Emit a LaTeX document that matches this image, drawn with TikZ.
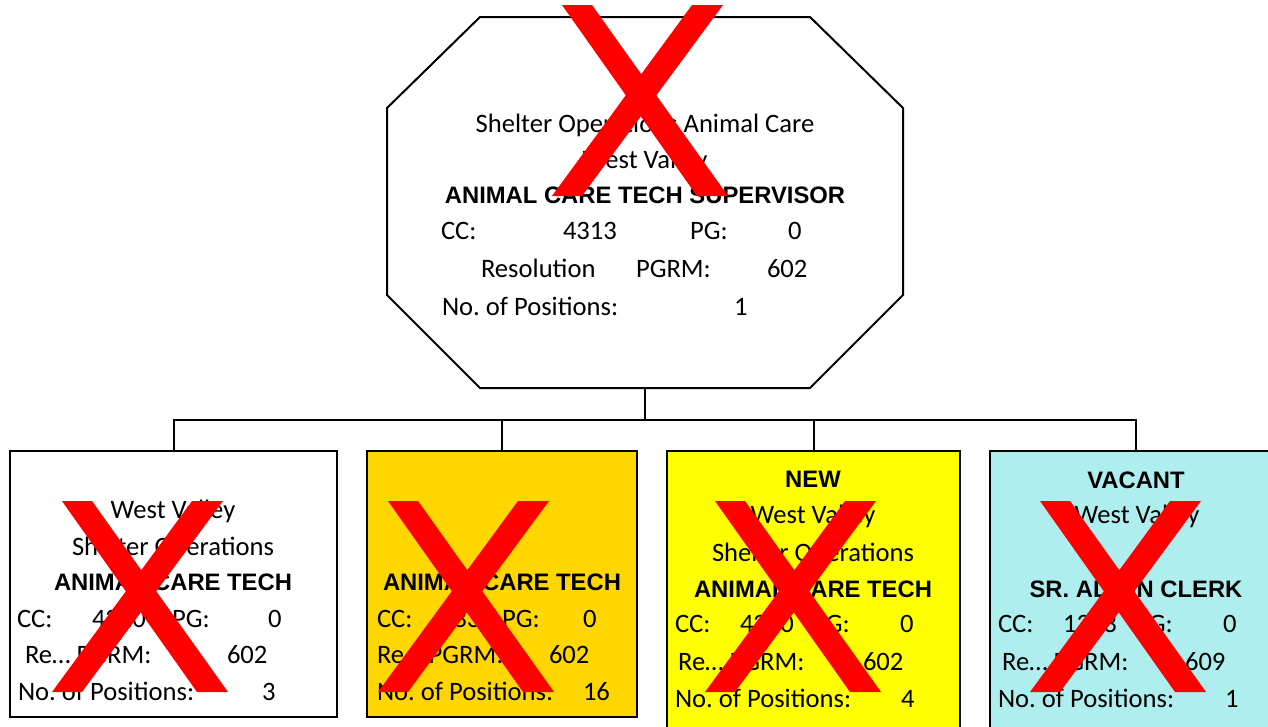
\documentclass[tikz,border=0pt]{standalone}
\usepackage{fontspec}
\setmainfont{Carlito}
\newfontfamily\arialf{Liberation Sans}
\usetikzlibrary{calc}
\frenchspacing
\definecolor{gold}{RGB}{255,215,0}
\definecolor{yel}{RGB}{255,255,0}
\definecolor{cyanl}{RGB}{175,238,238}
\definecolor{xred}{RGB}{255,0,0}
\newcommand\rgtxt{\frenchspacing\fontsize{26.6pt}{30pt}\selectfont}
\newcommand\bdtxt{\arialf\bfseries\fontsize{23.8pt}{28pt}\selectfont}
\begin{document}
\begin{tikzpicture}[x=1pt,y=-1pt,
  lbl/.style={inner sep=0pt,outer sep=0pt,font=\rgtxt},
  lw/.style={lbl,anchor=base west},
  lc/.style={lbl,anchor=base},
  bc/.style={inner sep=0pt,outer sep=0pt,font=\bdtxt,anchor=base},
  boxn/.style={draw=black,line width=2pt,inner sep=0pt,outer sep=0pt},
  conn/.style={draw=black,line width=2pt},
  redx/.pic={
    \fill[xred] (0,0) -- (30,0) -- (166,191) -- (135,191) -- cycle;
    \fill[xred] (130,0) -- (161,0) -- (20,191) -- (-10,191) -- cycle;
  }]
\useasboundingbox (0,0) rectangle (1268,726);
\clip (0,0) rectangle (1268,726);
\fill[white] (0,0) rectangle (1268,726);

% supervisor octagon
\node[inner sep=0pt,outer sep=0pt,minimum width=516pt,minimum height=371pt] (sup) at (645,202.5) {};
\draw[line width=2pt,fill=white,line join=miter]
  ($(sup.north west)+(93,0)$) -- ($(sup.north east)+(-93,0)$) -- ($(sup.north east)+(0,91)$)
  -- ($(sup.south east)+(0,-93)$) -- ($(sup.south east)+(-93,0)$) -- ($(sup.south west)+(93,0)$)
  -- ($(sup.south west)+(0,-93)$) -- ($(sup.north west)+(0,91)$) -- cycle;

% boxes
\node[boxn,fill=white,minimum width=327pt,minimum height=266pt] (b1) at (173.5,584) {};
\node[boxn,fill=gold,minimum width=270pt,minimum height=266pt] (b2) at (502,584) {};
\node[boxn,fill=yel,minimum width=293pt,minimum height=309pt] (b3) at (813.5,605.5) {};
\node[boxn,fill=cyanl,minimum width=292pt,minimum height=309pt] (b4) at (1136,605.5) {};

% connectors
\coordinate (busc) at (645,420);
\draw[conn] (sup.south) -- (busc);
\draw[conn] (b1.north) -- (b1.north |- busc) -- (b4.north |- busc) -- (b4.north);
\draw[conn] (b2.north) -- (b2.north |- busc);
\draw[conn] (b3.north) -- (b3.north |- busc);

% supervisor text
\node[lc] (s1) at (645,132) {Shelter Operations Animal Care};
\node[lc] (s2) at (645,168) {West Valley};
\node[bc] (s3) at (645,203) {ANIMAL CARE TECH SUPERVISOR};
\node[lw] (s4) at (441,239) {CC:};
\node[lw] (s5) at (563,239) {4313};
\node[lw] (s6) at (690,239) {PG:};
\node[lw] (s7) at (788,239) {0};
\node[lw] (s8) at (481,277) {Resolution};
\node[lw] (s9) at (636,277) {PGRM:};
\node[lw] (s10) at (767,277) {602};
\node[lw] (s11) at (442,315) {No. of Positions:};
\node[lw] (s12) at (734,315) {1};

% box 1 text
\node[lc] (a1) at (173,518) {West Valley};
\node[lc] (a2) at (173,555) {Shelter Operations};
\node[bc] (a3) at (173,590) {ANIMAL CARE TECH};
\node[lw] (a4) at (17,627) {CC:};
\node[lw] (a5) at (92,627) {4210};
\node[lw] (a6) at (172,627) {PG:};
\node[lw] (a7) at (268,627) {0};
\node[lw] (a8) at (25,663) {Re… PGRM:};
\node[lw] (a9) at (227,663) {602};
\node[lw] (a10) at (18,700) {No. of Positions:};
\node[lw] (a11) at (262,700) {3};

% box 2 text
\node[bc] (c3) at (502,590) {ANIMAL CARE TECH};
\node[lw] (c4) at (377,627) {CC:};
\node[lw] (c5) at (440,627) {4331};
\node[lw] (c6) at (502,627) {PG:};
\node[lw] (c7) at (583,627) {0};
\node[lw] (c8) at (377,663) {Re… PGRM:};
\node[lw] (c9) at (549,663) {602};
\node[lw] (c10) at (377,700) {No. of Positions:};
\node[lw] (c11) at (583,700) {16};

% box 3 text
\node[bc] (d0) at (813,487) {NEW};
\node[lc] (d1) at (813,523) {West Valley};
\node[lc] (d2) at (813,561) {Shelter Operations};
\node[bc] (d3) at (813,597) {ANIMAL CARE TECH};
\node[lw] (d4) at (675,632) {CC:};
\node[lw] (d5) at (740,632) {4210};
\node[lw] (d6) at (812,632) {PG:};
\node[lw] (d7) at (900,632) {0};
\node[lw] (d8) at (678,670) {Re… PGRM:};
\node[lw] (d9) at (863,670) {602};
\node[lw] (d10) at (675,707) {No. of Positions:};
\node[lw] (d11) at (901,707) {4};

% box 4 text
\node[bc] (e0) at (1136,488) {VACANT};
\node[lc] (e1) at (1137,523) {West Valley};
\node[bc] (e3) at (1136,597) {SR. ADMIN CLERK};
\node[lw] (e4) at (998,632) {CC:};
\node[lw] (e5) at (1063,632) {1313};
\node[lw] (e6) at (1135,632) {PG:};
\node[lw] (e7) at (1223,632) {0};
\node[lw] (e8) at (1002,670) {Re… PGRM:};
\node[lw] (e9) at (1185,670) {609};
\node[lw] (e10) at (998,707) {No. of Positions:};
\node[lw] (e11) at (1225,707) {1};

% red crosses
\pic at (562,5) {redx};
\pic at (62,501) {redx};
\pic at (388,501) {redx};
\pic at (715,501) {redx};
\pic at (1040,501) {redx};
\end{tikzpicture}
\end{document}
